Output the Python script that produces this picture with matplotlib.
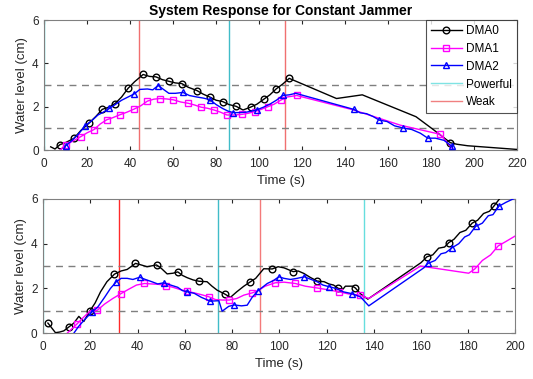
import numpy as np
import matplotlib
matplotlib.use("Agg")
import matplotlib.pyplot as plt
from matplotlib.lines import Line2D

plt.rcParams['font.family'] = ['Liberation Sans', 'DejaVu Sans']

# ---- top panel data ----
top_t0 = [3, 5, 7.3, 10, 13.8, 17, 21, 24, 27, 30, 33, 36, 39, 42, 46, 49, 52, 55, 58.2, 61,
          64, 67, 71, 74, 77, 80, 83, 86, 89.3, 92.5, 96, 99, 102.2, 105, 108, 111, 114,
          136, 148, 173, 181, 189, 192, 197, 220]
top_v0 = [0.15, 0.05, 0.25, 0.35, 0.54, 0.9, 1.26, 1.55, 1.88, 1.98, 2.15, 2.45, 2.85, 3.15, 3.49,
          3.4, 3.38, 3.25, 3.17, 3.1, 3.07, 2.9, 2.75, 2.58, 2.45, 2.3, 2.24, 2.1, 2.02, 1.85,
          1.98, 2.12, 2.35, 2.55, 2.83, 3.05, 3.31, 2.38, 2.55, 1.54, 0.95, 0.34, 0.27, 0.2, 0.03]
top_m0 = [7.3, 13.8, 21, 27, 33, 39, 46, 52, 58.2, 64, 71, 77, 83, 89.3, 96, 102.2, 108, 114, 189]

top_t1 = [7.3, 10, 13, 17, 20, 23.2, 26, 29.1, 32, 35.2, 38.5, 42, 45, 48, 51, 54, 57, 60.1,
          63.5, 67, 70, 73, 76, 79, 82, 85, 88.5, 92, 95, 97.9, 101, 104, 107, 110, 113, 117.5,
          144, 165.7, 184.2, 190.5]
top_v1 = [0.0, 0.22, 0.4, 0.62, 0.8, 0.95, 1.2, 1.4, 1.5, 1.63, 1.75, 1.9, 2.05, 2.26, 2.35,
          2.38, 2.36, 2.32, 2.22, 2.16, 2.08, 1.98, 1.93, 1.85, 1.75, 1.62, 1.62, 1.65, 1.7,
          1.78, 1.88, 2.0, 2.12, 2.3, 2.45, 2.52, 1.85, 1.15, 0.73, 0.0]
top_m1 = [10, 17, 23.2, 29.1, 35.2, 42, 48, 54, 60.1, 67, 73, 79, 85, 92, 97.9, 104, 110, 117.5, 184.2]

top_t2 = [9.0, 10.0, 13, 16, 19, 22, 25, 27.5, 30.3, 33, 36, 39, 42, 44.5, 48, 50.5, 53, 55.5,
          58, 61, 64.6, 67.5, 71, 74, 77, 80, 83, 85.5, 88, 91, 94, 96.5, 99, 102, 105, 108,
          111, 114, 117, 144, 147, 150, 153, 156, 159.5, 163, 167, 171, 175, 178.5, 182, 186,
          189.8, 190.3]
top_v2 = [0.0, 0.2, 0.45, 0.75, 1.12, 1.35, 1.62, 1.75, 1.92, 2.1, 2.3, 2.45, 2.6, 2.8, 2.82,
          2.78, 2.98, 2.8, 2.62, 2.62, 2.66, 2.52, 2.45, 2.4, 2.33, 2.1, 1.92, 1.8, 1.73, 1.73,
          1.75, 1.8, 1.86, 1.98, 2.12, 2.3, 2.52, 2.55, 2.62, 1.88, 1.72, 1.68, 1.55, 1.38,
          1.32, 1.12, 1.02, 0.95, 0.78, 0.55, 0.55, 0.45, 0.17, 0.0]
top_m2 = [10.0, 19, 30.3, 42, 53, 64.6, 77, 88, 99, 111, 144, 156, 167, 178.5, 189.8]

top_powerful = [0, 86]
top_weak = [44, 112]

# ---- bottom panel data ----
bot_t0 = [2, 3.5, 5.2, 7, 8.7, 10.8, 13, 15.1, 17.2, 19.7, 22, 24.3, 27, 30.2, 33, 35.6, 39.1,
          41.5, 44, 48, 50, 52.5, 55, 57, 59, 61, 63.5, 66, 69.4, 71.5, 73.7, 76.9, 79.3, 82,
          85, 87.8, 90, 93.4, 97, 99.5, 102, 105.9, 108, 110.4, 113, 116, 119, 121, 123, 125,
          127, 128, 131, 132.2, 134.5, 137.5, 160, 162.6, 165, 167.5, 170, 171.8, 174, 176.5,
          179, 181.7, 184, 186.5, 189, 190.8, 193.6]
bot_v0 = [0.45, 0.25, 0.02, 0.05, 0.1, 0.27, 0.45, 0.75, 0.52, 0.98, 1.35, 1.85, 2.3, 2.64, 2.78,
          2.85, 3.12, 3.05, 2.97, 3.05, 2.9, 2.65, 2.68, 2.74, 2.58, 2.48, 2.38, 2.32, 2.3, 2.1,
          1.92, 1.75, 1.6, 1.85, 2.1, 2.3, 2.45, 2.88, 2.87, 2.97, 2.92, 2.75, 2.78, 2.67, 2.5,
          2.33, 2.3, 2.2, 2.15, 2.0, 1.97, 2.1, 2.1, 2.02, 1.75, 1.52, 3.15, 3.42, 3.5, 3.8,
          3.85, 4.05, 4.2, 4.5, 4.6, 4.92, 5.05, 5.35, 5.45, 5.67, 6.05]
bot_m0 = [2, 10.8, 19.7, 30.2, 39.1, 48, 57, 66, 76.9, 87.8, 97, 105.9, 116, 125, 132.2,
          162.6, 171.8, 181.7, 190.8]

bot_t1 = [10.2, 14.4, 17, 20, 22.9, 26, 29.5, 33, 36, 39.5, 42.9, 46, 49, 52.1, 55, 58, 61, 64,
          67, 70.1, 73, 76, 78.8, 82, 85, 88.5, 91, 94, 98.2, 102, 106.8, 111, 116, 120, 125.2,
          129.5, 134.1, 137.9, 159.8, 180.2, 182.8, 186, 189.5, 192.7, 196, 200]
bot_v1 = [0.0, 0.42, 0.7, 1.0, 1.02, 1.3, 1.55, 1.77, 1.95, 2.15, 2.22, 2.2, 2.18, 2.13, 2.05,
          1.95, 1.87, 1.8, 1.72, 1.63, 1.5, 1.48, 1.48, 1.55, 1.7, 1.8, 1.9, 2.1, 2.25, 2.28,
          2.22, 2.1, 2.02, 1.95, 1.85, 1.75, 1.7, 1.55, 3.0, 2.68, 2.87, 3.25, 3.5, 3.9, 4.1, 4.35]
bot_m1 = [14.4, 22.9, 33, 42.9, 52.1, 61, 70.1, 78.8, 88.5, 98.2, 106.8, 116, 125.2, 134.1,
          182.8, 192.7]

bot_t2 = [13, 15, 17.5, 20.7, 23, 26, 28.5, 31, 33, 35.6, 38, 40.9, 43.3, 46, 48.5, 51, 54, 57,
          59, 61, 64, 67, 70.8, 74.4, 75.8, 78.6, 81, 84, 86.4, 88.5, 90.9, 94.9, 97.5, 99.8,
          102, 104.7, 107.5, 110.6, 113.5, 116, 118.5, 121, 124, 127, 130.6, 134.4, 137.9,
          161.2, 163, 166, 168.5, 170.5, 173.2, 176, 178.5, 180.5, 183.1, 186, 188.5, 190.5,
          192.9, 196, 200]
bot_v2 = [0.0, 0.3, 0.6, 0.95, 1.15, 1.6, 2.0, 2.3, 2.45, 2.45, 2.4, 2.5, 2.4, 2.3, 2.2, 2.25,
          2.15, 2.05, 1.9, 1.85, 1.78, 1.6, 1.43, 1.45, 0.98, 1.2, 1.26, 1.22, 1.25, 1.6, 1.89,
          2.22, 2.35, 2.52, 2.45, 2.4, 2.45, 2.52, 2.4, 2.3, 2.15, 2.08, 2.0, 1.85, 1.77, 1.62,
          1.22, 2.92, 3.12, 3.25, 3.55, 3.6, 3.82, 4.0, 4.3, 4.4, 4.77, 4.92, 5.25, 5.3, 5.67,
          5.85, 6.05]
bot_m2 = [20.7, 31, 40.9, 51, 61, 70.8, 81, 90.9, 99.8, 110.6, 121, 130.6, 163, 173.2, 183.1, 192.9]

bot_powerful = [0, 74, 136]
bot_weak = [32, 92]

thresholds = [1, 3]


def mark_idx(t, marks):
    t = np.asarray(t)
    return [int(np.argmin(np.abs(t - m))) for m in marks]


def draw(ax, series, powerful, weak, pcols, wcols, xmax, xticks):
    for x, c in zip(powerful, pcols):
        ax.axvline(x, color=c, lw=1.0, zorder=1)
    for x, c in zip(weak, wcols):
        ax.axvline(x, color=c, lw=1.0, zorder=1)
    for y in thresholds:
        ax.axhline(y, color='#7f7f7f', lw=1.0, dashes=(5, 4), zorder=1)
    styles = [('k', 'o'), ('#ff00ff', 's'), ('#0000ff', '^')]
    for (t, v, m), (c, mk), lab in zip(series, styles, ['DMA0', 'DMA1', 'DMA2']):
        ax.plot(t, v, color=c, lw=1.0, marker=mk, markersize=4.8, mfc='none', mec=c,
                mew=1.0, markevery=mark_idx(t, m), label=lab, zorder=3)
    ax.set_xlim(0, xmax)
    ax.set_ylim(0, 6)
    ax.set_xticks(xticks)
    ax.set_yticks([0, 2, 4, 6])
    ax.tick_params(direction='in', length=3, top=True, right=True, labelsize=8.5,
                   colors='#262626')
    ax.tick_params(axis='x', pad=6)
    ax.tick_params(axis='y', pad=4)
    for s in ax.spines.values():
        s.set_color('#808080')
        s.set_linewidth(0.8)
    ax.set_xlabel('Time (s)', fontsize=9.5, color='#262626', labelpad=3)
    ax.set_ylabel('Water level (cm)', fontsize=9.5, color='#262626', labelpad=3)


fig = plt.figure(figsize=(5.33, 3.79), dpi=100)
ax1 = fig.add_axes([0.083, 0.604, 0.887, 0.343])
ax2 = fig.add_axes([0.081, 0.121, 0.886, 0.354])

draw(ax1, [(top_t0, top_v0, top_m0), (top_t1, top_v1, top_m1), (top_t2, top_v2, top_m2)],
     top_powerful, top_weak, ['#33e0e0', '#40bcc8'], ['#f07070', '#f07070'],
     220, list(range(0, 221, 20)))
draw(ax2, [(bot_t0, bot_v0, bot_m0), (bot_t1, bot_v1, bot_m1), (bot_t2, bot_v2, bot_m2)],
     bot_powerful, bot_weak, ['#66e6e6', '#40bcc8', '#66dede'], ['#ff2a2a', '#f47a7a'],
     200, list(range(0, 201, 20)))

ax1.set_title('System Response for Constant Jammer', fontsize=10, fontweight='bold', pad=4)

handles, labels = ax1.get_legend_handles_labels()
handles += [Line2D([], [], color='#7fe3e3', lw=1.0), Line2D([], [], color='#f08080', lw=1.0)]
labels += ['Powerful', 'Weak']
leg = ax1.legend(handles, labels, loc='upper right', fontsize=8.5, frameon=True, fancybox=False,
                 borderaxespad=0.0, handlelength=2.6, labelspacing=0.5, borderpad=0.4,
                 handletextpad=0.4)
leg.get_frame().set_edgecolor('#262626')
leg.get_frame().set_linewidth(0.8)

fig.savefig('out.png', dpi=100)
